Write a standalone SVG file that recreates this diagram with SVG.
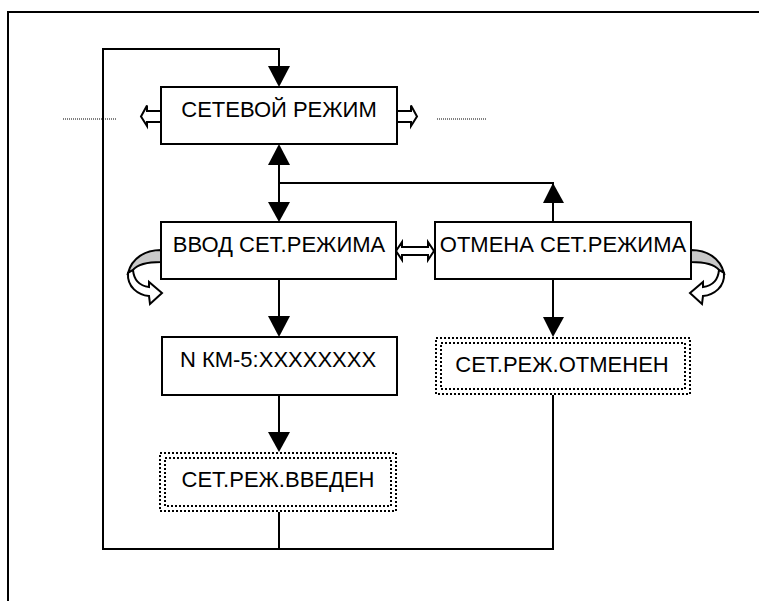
<svg xmlns="http://www.w3.org/2000/svg" width="759" height="601" viewBox="0 0 759 601">
<defs>
<style>
.box{fill:#fff;stroke:#000;stroke-width:2}
.dot{fill:none;stroke:#000;stroke-width:2;stroke-dasharray:2 2}
.ln{fill:none;stroke:#000;stroke-width:2}
.hd{fill:#000;stroke:none}
.ha{fill:#fff;stroke:#000;stroke-width:2;stroke-linejoin:miter}
.gr{fill:#c8c8c8;stroke:#000;stroke-width:2}
.t{font-family:"Liberation Sans",Arial,sans-serif;font-size:22px;fill:#000;text-anchor:middle}
.dl{fill:none;stroke:#000;stroke-width:1;stroke-dasharray:1 1}
</style>
</defs>
<rect x="0" y="0" width="759" height="601" fill="#fff"/>
<path d="M759,12 H8 V601" fill="none" stroke="#000" stroke-width="2"/>

<g id="connectors">
  <polyline class="ln" points="279,510 279,549"/>
  <polyline class="ln" points="553,395 553,549 103,549 103,49 279,49 279,68"/>
  <polygon class="hd" points="268,66 290,66 279,87"/>
  <polyline class="ln" points="279,164 279,204"/>
  <polygon class="hd" points="268,165 290,165 279,144"/>
  <polygon class="hd" points="268,202 290,202 279,222"/>
  <polyline class="ln" points="279,183 553,183 553,222"/>
  <polygon class="hd" points="543,203 564,203 553,183"/>
  <polyline class="ln" points="279,279 279,318"/>
  <polygon class="hd" points="268,316 290,316 279,337"/>
  <polyline class="ln" points="279,395 279,434"/>
  <polygon class="hd" points="268,432 290,432 279,452"/>
  <polyline class="ln" points="553,279 553,319"/>
  <polygon class="hd" points="543,317 564,317 553,337"/>
  <polygon class="ha" points="161,111 147,111 147,105.5 141,116.5 147,126 147,122 161,122"/>
  <polygon class="ha" points="397,111 411,111 411,105.5 417,116.5 411,126 411,122 397,122"/>
  <polygon class="ha" points="396,251 402,242 402,247 428,247 428,242 434,251 428,260 428,255 402,255 402,260"/>
  <line class="dl" x1="63" y1="119" x2="117" y2="119"/>
  <line class="dl" x1="437" y1="119" x2="487" y2="119"/>
  <path class="gr" d="M161,250 C145,250 132,258 128,273 L133,270 C137,265 148,262 161,262 Z"/>
  <path class="ha" d="M133,270 C134,281 141,286 149,287 L149,282 L162,293 L150,304 L149,296 C138,295 127,287 128,273 Z"/>
  <path class="gr" d="M691,250 C707,250 720,258 724,273 L719,270 C715,265 704,262 691,262 Z"/>
  <path class="ha" d="M719,270 C718,281 711,286 703,287 L703,282 L690,293 L702,304 L703,296 C714,295 725,287 724,273 Z"/>
</g>

<g id="n-network">
  <rect class="box" x="161" y="87" width="236" height="57"/>
  <text class="t" x="279" y="117">СЕТЕВОЙ РЕЖИМ</text>
</g>
<g id="n-enter">
  <rect class="box" x="161" y="222" width="235" height="57"/>
  <text class="t" x="279" y="252">ВВОД СЕТ.РЕЖИМА</text>
</g>
<g id="n-cancel">
  <rect class="box" x="435" y="222" width="256" height="57"/>
  <text class="t" x="563" y="252">ОТМЕНА СЕТ.РЕЖИМА</text>
</g>
<g id="n-km">
  <rect class="box" x="162" y="337" width="235" height="58"/>
  <text class="t" x="278" y="367">N КМ-5:XXXXXXXX</text>
</g>
<g id="n-entered">
  <rect x="159" y="452" width="238" height="60" fill="#fff"/>
  <rect class="dot" x="160" y="453" width="236" height="58"/>
  <rect class="dot" x="165" y="458" width="226" height="48"/>
  <text class="t" x="278" y="487">СЕТ.РЕЖ.ВВЕДЕН</text>
</g>
<g id="n-cancelled">
  <rect x="435" y="337" width="256" height="58" fill="#fff"/>
  <rect class="dot" x="436" y="338" width="254" height="56"/>
  <rect class="dot" x="441" y="343" width="244" height="46"/>
  <text class="t" x="562" y="372">СЕТ.РЕЖ.ОТМЕНЕН</text>
</g>
</svg>
